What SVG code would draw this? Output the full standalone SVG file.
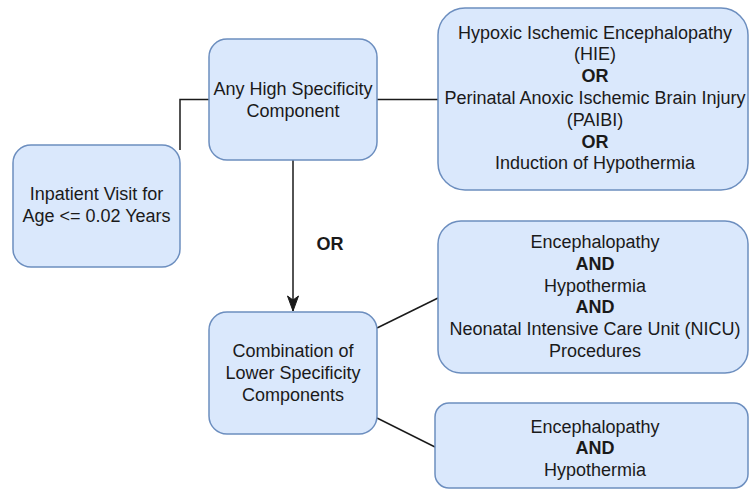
<svg xmlns="http://www.w3.org/2000/svg" width="749" height="490" viewBox="0 0 749 490">
  <style>
    .box { fill: #dae8fc; stroke: #6c8ebf; stroke-width: 1.5; }
    .t { font-family: "Liberation Sans", Arial, Helvetica, sans-serif; font-size: 18px; fill: #1a1a1a; text-anchor: middle; }
    .b { font-weight: bold; }
    .c { fill: none; stroke: #1a1a1a; stroke-width: 1.5; }
  </style>
  <defs>
    <marker id="arr" markerUnits="userSpaceOnUse" viewBox="-1 -7 17 14" markerWidth="17" markerHeight="14" refX="15" refY="0" orient="auto">
      <path d="M0,-5.5 L15,0 L0,5.5 L4,0 Z" fill="#1a1a1a" stroke="#1a1a1a" stroke-width="1"/>
    </marker>
  </defs>
  <rect width="749" height="490" fill="#ffffff"/>

  <g id="connectors">
    <polyline class="c" points="180,150 180,99.5 209,99.5"/>
    <line class="c" x1="377" y1="99.5" x2="438" y2="99.5"/>
    <line class="c" x1="293" y1="160" x2="293" y2="311" marker-end="url(#arr)"/>
    <line class="c" x1="377" y1="328" x2="438" y2="298"/>
    <line class="c" x1="377" y1="418" x2="435" y2="447"/>
    <text class="t b" x="330" y="249.5">OR</text>
  </g>

  <g id="inpatient">
    <rect class="box" x="13" y="145" width="167" height="122" rx="18" ry="18"/>
    <text class="t" x="96.5" y="200">Inpatient Visit for</text>
    <text class="t" x="96.5" y="221.8">Age &lt;= 0.02 Years</text>
  </g>

  <g id="high-specificity">
    <rect class="box" x="209" y="39" width="168" height="121" rx="18" ry="18"/>
    <text class="t" x="293" y="95">Any High Specificity</text>
    <text class="t" x="293" y="116.8">Component</text>
  </g>

  <g id="high-criteria">
    <rect class="box" x="438" y="8" width="310" height="182" rx="27" ry="27"/>
    <text class="t" x="595" y="38.5">Hypoxic Ischemic Encephalopathy</text>
    <text class="t" x="595" y="60.3">(HIE)</text>
    <text class="t b" x="595" y="82.1">OR</text>
    <text class="t" x="595" y="103.9">Perinatal Anoxic Ischemic Brain Injury</text>
    <text class="t" x="595" y="125.7">(PAIBI)</text>
    <text class="t b" x="595" y="147.5">OR</text>
    <text class="t" x="595" y="169.3">Induction of Hypothermia</text>
  </g>

  <g id="lower-specificity">
    <rect class="box" x="209" y="312" width="168" height="122" rx="18" ry="18"/>
    <text class="t" x="293" y="357">Combination of</text>
    <text class="t" x="293" y="378.8">Lower Specificity</text>
    <text class="t" x="293" y="400.6">Components</text>
  </g>

  <g id="combo-nicu">
    <rect class="box" x="438" y="221" width="310" height="152" rx="23" ry="23"/>
    <text class="t" x="595" y="248">Encephalopathy</text>
    <text class="t b" x="595" y="269.8">AND</text>
    <text class="t" x="595" y="291.6">Hypothermia</text>
    <text class="t b" x="595" y="313.4">AND</text>
    <text class="t" x="595" y="335.2">Neonatal Intensive Care Unit (NICU)</text>
    <text class="t" x="595" y="357">Procedures</text>
  </g>

  <g id="combo-basic">
    <rect class="box" x="435" y="403" width="313" height="85" rx="14" ry="14"/>
    <text class="t" x="595" y="432.5">Encephalopathy</text>
    <text class="t b" x="595" y="454.3">AND</text>
    <text class="t" x="595" y="476.1">Hypothermia</text>
  </g>
</svg>
